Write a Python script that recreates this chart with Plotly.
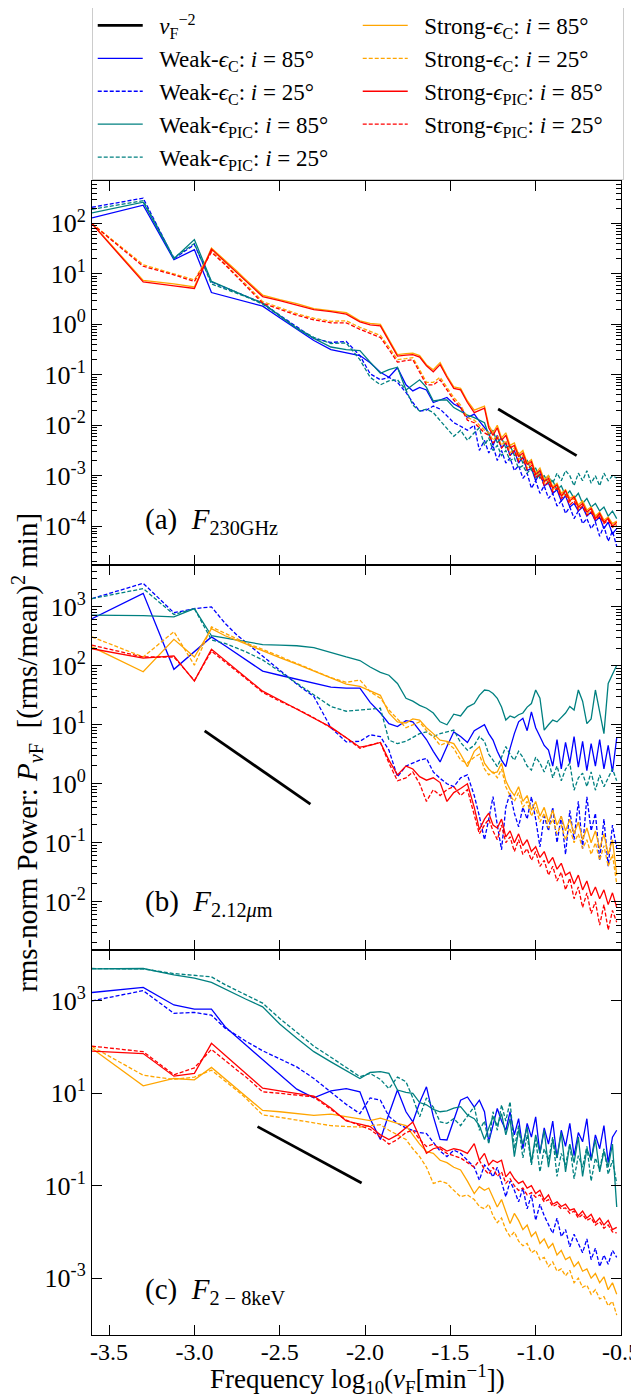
import plotly.graph_objects as go
from plotly.subplots import make_subplots

# ---------------- data (log10 of rms-normalised power) ----------------
X = [-3.60, -3.30, -3.12, -3.00, -2.90, -2.82, -2.75, -2.70, -2.60, -2.50,
     -2.40, -2.30, -2.20, -2.11, -2.03, -1.97, -1.91, -1.86, -1.81, -1.76,
     -1.72, -1.68, -1.64, -1.60, -1.56, -1.52, -1.48, -1.44, -1.40, -1.36,
     -1.33, -1.30, -1.275, -1.25, -1.225, -1.20, -1.175, -1.15, -1.125, -1.10,
     -1.075, -1.05, -1.025, -1.00, -0.975, -0.95, -0.925, -0.90, -0.875, -0.85,
     -0.825, -0.80, -0.775, -0.75, -0.725, -0.70, -0.675, -0.65, -0.625, -0.60,
     -0.575, -0.55, -0.525]

# panel (a) F_230GHz
A_WC85 = [2.11, 2.36, 1.28, 1.48, 0.63, 0.56, 0.50, 0.45, 0.36, 0.13,
          -0.10, -0.32, -0.50, -0.56, -0.62, -0.76, -0.95, -1.05, -0.86, -1.20,
          -1.32, -1.25, -1.30, -1.55, -1.50, -1.45, -1.58, -1.65, -1.85, -1.78,
          -1.92, -2.05, -2.15, -2.40, -2.20, -2.45, -2.35, -2.60, -2.50, -2.75,
          -2.62, -2.90, -2.85, -3.10, -2.95, -3.20, -3.15, -3.35, -3.28, -3.50,
          -3.40, -3.62, -3.55, -3.70, -3.62, -3.80, -3.72, -3.90, -3.82, -4.05,
          -3.92, -4.15, -4.05]
A_WC25 = [2.32, 2.50, 1.30, 1.58, 0.84, 0.72, 0.63, 0.56, 0.42, 0.18,
          -0.05, -0.28, -0.36, -0.34, -0.62, -0.98, -1.10, -1.05, -1.15, -1.35,
          -1.55, -1.72, -1.70, -1.62, -1.68, -1.82, -1.95, -2.02, -2.10, -2.00,
          -2.50, -2.30, -2.55, -2.40, -2.70, -2.50, -2.75, -2.65, -2.90, -2.80,
          -3.05, -2.95, -3.25, -3.10, -3.35, -3.20, -3.45, -3.35, -3.60, -3.50,
          -3.75, -3.62, -3.85, -3.70, -3.95, -3.85, -4.05, -3.92, -4.20, -4.00,
          -4.30, -4.10, -4.40]
A_WP85 = [2.21, 2.42, 1.30, 1.68, 0.85, 0.74, 0.64, 0.56, 0.42, 0.17,
          -0.08, -0.28, -0.45, -0.50, -0.52, -0.75, -0.97, -0.90, -0.85, -1.30,
          -1.20, -1.10, -1.25, -1.52, -1.50, -1.50, -1.65, -1.73, -1.80, -1.85,
          -1.90, -1.95, -2.20, -2.10, -2.35, -2.25, -2.45, -2.40, -2.60, -2.55,
          -2.75, -2.70, -2.90, -2.85, -3.05, -3.00, -3.15, -3.10, -3.28, -3.20,
          -3.40, -3.30, -3.45, -3.35, -3.55, -3.45, -3.62, -3.55, -3.70, -3.62,
          -3.80, -3.70, -3.85]
A_WP25 = [2.28, 2.45, 1.32, 1.60, 0.80, 0.70, 0.62, 0.55, 0.40, 0.16,
          -0.07, -0.26, -0.38, -0.37, -0.70, -1.05, -1.20, -1.12, -1.10, -1.30,
          -1.60, -1.72, -1.68, -1.75, -1.90, -2.05, -2.22, -2.10, -2.30, -2.15,
          -2.05, -2.40, -2.25, -2.50, -2.40, -2.60, -2.50, -2.70, -2.65, -2.85,
          -2.80, -2.95, -2.85, -3.05, -2.90, -3.10, -3.00, -3.15, -2.95, -3.10,
          -2.90, -3.00, -3.20, -2.95, -3.10, -2.90, -3.15, -3.00, -3.20, -2.95,
          -3.10, -3.00, -3.05]
A_SC85 = [2.00, 0.87, 0.80, 0.74, 1.51, 1.27, 1.05, 0.89, 0.58, 0.49,
          0.41, 0.31, 0.27, 0.23, 0.07, 0.02, 0.00, -0.30, -0.60, -0.58,
          -0.57, -0.62, -0.80, -0.90, -0.76, -1.02, -1.24, -1.27, -1.52, -1.70,
          -1.66, -1.62, -2.00, -2.15, -2.00, -2.25, -2.15, -2.40, -2.35, -2.58,
          -2.50, -2.75, -2.68, -2.95, -2.85, -3.08, -3.00, -3.22, -3.15, -3.35,
          -3.28, -3.45, -3.40, -3.58, -3.50, -3.68, -3.62, -3.80, -3.72, -3.88,
          -3.82, -3.95, -3.90]
A_SC25 = [2.00, 1.18, 1.00, 0.88, 1.45, 1.20, 0.96, 0.80, 0.45, 0.33,
          0.21, 0.12, 0.06, 0.07, -0.06, -0.14, -0.22, -0.45, -0.70, -0.68,
          -0.66, -0.90, -1.15, -1.15, -1.05, -1.25, -1.45, -1.60, -1.85, -1.90,
          -2.00, -2.10, -2.15, -2.30, -2.20, -2.40, -2.30, -2.55, -2.45, -2.68,
          -2.60, -2.85, -2.75, -3.00, -2.95, -3.15, -3.08, -3.28, -3.20, -3.40,
          -3.35, -3.52, -3.45, -3.65, -3.55, -3.75, -3.68, -3.85, -3.75, -3.92,
          -3.85, -4.00, -3.95]
A_SP85 = [1.99, 0.84, 0.76, 0.71, 1.49, 1.24, 1.02, 0.86, 0.55, 0.47,
          0.38, 0.29, 0.25, 0.20, 0.05, -0.01, -0.03, -0.33, -0.63, -0.61,
          -0.60, -0.65, -0.82, -0.94, -0.80, -1.05, -1.27, -1.30, -1.55, -1.75,
          -1.70, -1.66, -2.05, -2.20, -2.05, -2.30, -2.20, -2.45, -2.40, -2.62,
          -2.55, -2.78, -2.72, -2.98, -2.90, -3.12, -3.05, -3.25, -3.18, -3.40,
          -3.30, -3.50, -3.42, -3.62, -3.55, -3.72, -3.65, -3.85, -3.75, -3.92,
          -3.85, -4.00, -3.92]
A_SP25 = [1.99, 1.15, 0.98, 0.85, 1.43, 1.18, 0.94, 0.77, 0.42, 0.30,
          0.18, 0.09, 0.03, 0.03, -0.10, -0.18, -0.26, -0.50, -0.75, -0.72,
          -0.70, -0.95, -1.20, -1.20, -1.10, -1.30, -1.50, -1.65, -1.90, -1.95,
          -2.05, -2.15, -2.20, -2.35, -2.25, -2.45, -2.35, -2.60, -2.50, -2.72,
          -2.65, -2.88, -2.80, -3.05, -2.98, -3.20, -3.12, -3.32, -3.25, -3.45,
          -3.38, -3.58, -3.50, -3.68, -3.60, -3.78, -3.72, -3.88, -3.80, -3.95,
          -3.88, -4.02, -3.98]

# panel (b) F_2.12um
B_WC85 = [2.80, 3.23, 1.94, 2.24, 2.49, 2.34, 2.20, 2.10, 1.91, 1.84,
          1.77, 1.71, 1.64, 1.62, 1.62, 1.38, 1.20, 1.02, 0.97, 1.07,
          1.05, 0.90, 0.75, 0.55, 0.37, 0.63, 0.88, 0.80, 0.70, 0.90,
          0.95, 1.00, 0.85, 0.74, 0.55, 0.40, 0.29, 0.60, 0.85, 1.05,
          1.11, 0.90, 1.22, 0.95, 0.80, 0.65, 0.57, 0.30, 0.75, 0.25,
          0.70, 0.35, 0.80, 0.28, 0.72, 0.22, 0.68, 0.30, 0.75, 0.25,
          0.65, 0.20, 0.78]
B_WC25 = [3.14, 3.40, 2.90, 2.97, 3.00, 2.72, 2.52, 2.40, 2.17, 1.93,
          1.69, 1.48, 0.95, 0.71, 0.72, 0.83, 0.80, 0.57, 0.12, 0.30,
          0.35, 0.40, 0.43, 0.20, 0.09, 0.00, -0.05, 0.10, 0.15, -0.20,
          -0.55, -0.95, -0.60, -0.22, -0.70, -1.12, -0.40, -0.16, -0.50, -0.73,
          -0.40, -0.60, -0.22, -0.60, -1.07, -0.55, -0.80, -0.40, -1.00, -0.55,
          -1.20, -0.45, -0.95, -0.30, -1.10, -0.22, -0.80, -0.50, -1.30, -0.60,
          -1.40, -0.70, -1.10]
B_WP85 = [2.86, 2.85, 2.83, 2.97, 2.51, 2.47, 2.44, 2.41, 2.36, 2.35,
          2.34, 2.31, 2.22, 2.15, 2.09, 1.98, 1.89, 1.84, 1.70, 1.45,
          1.40, 1.33, 1.28, 1.20, 1.05, 1.00, 1.18, 1.15, 1.30, 1.36,
          1.50, 1.59, 1.58, 1.53, 1.45, 1.30, 1.08, 1.15, 1.12, 1.17,
          1.20, 1.30, 1.36, 1.59, 1.45, 0.91, 1.00, 1.08, 1.05, 1.12,
          1.20, 1.31, 1.25, 1.59, 1.40, 1.02, 1.10, 1.59, 1.20, 0.85,
          1.70, 1.87, 2.01]
B_WP25 = [3.14, 3.31, 2.87, 2.97, 2.44, 2.38, 2.30, 2.24, 2.10, 1.90,
          1.70, 1.50, 1.31, 1.23, 1.25, 1.27, 1.28, 0.74, 0.68, 0.72,
          0.78, 0.85, 0.88, 0.80, 0.85, 0.88, 0.91, 0.70, 0.57, 0.65,
          0.80, 0.72, 0.50, 0.40, 0.29, 0.45, 0.63, 0.50, 0.40, 0.55,
          0.45, 0.30, 0.23, 0.45, 0.35, 0.20, 0.40, 0.10, 0.30, 0.05,
          0.25, 0.35, -0.11, 0.10, 0.18, -0.05, 0.20, -0.11, 0.15, -0.05,
          0.10, 0.25, 0.05]
B_SC85 = [2.32, 1.90, 2.45, 2.15, 2.63, 2.51, 2.43, 2.37, 2.26, 2.14,
          2.03, 1.91, 1.79, 1.69, 1.65, 1.58, 1.50, 1.20, 1.05, 1.03,
          1.10, 1.08, 0.95, 0.85, 0.74, 0.72, 0.68, 0.50, 0.29, 0.55,
          0.63, 0.35, 0.25, 0.18, 0.20, 0.35, 0.05, -0.10, -0.20, -0.05,
          -0.30, -0.20, -0.45, -0.30, -0.55, -0.40, -0.65, -0.45, -0.70, -0.55,
          -0.80, -0.60, -0.85, -0.65, -0.95, -0.75, -1.00, -0.80, -1.10, -0.85,
          -1.20, -0.95, -1.55]
B_SC25 = [2.49, 2.15, 2.58, 2.01, 2.66, 2.55, 2.46, 2.39, 2.28, 2.16,
          2.04, 1.92, 1.80, 1.72, 1.76, 1.56, 1.45, 1.25, 1.10, 0.95,
          1.00, 1.05, 0.90, 0.80, 0.65, 0.70, 0.60, 0.40, 0.35, 0.45,
          0.50, 0.25, 0.15, 0.20, 0.10, 0.25, -0.05, -0.20, -0.30, -0.15,
          -0.40, -0.30, -0.55, -0.40, -0.65, -0.50, -0.75, -0.60, -0.85, -0.70,
          -0.95, -0.75, -1.00, -0.85, -1.10, -0.95, -1.20, -1.00, -1.30, -1.05,
          -1.40, -1.20, -1.70]
B_SP85 = [2.29, 2.13, 2.17, 1.74, 2.28, 2.09, 1.92, 1.81, 1.57, 1.42,
          1.26, 1.11, 0.96, 0.78, 0.62, 0.65, 0.70, 0.40, 0.15, 0.30,
          0.25, 0.12, 0.06, 0.10, 0.02, -0.30, -0.15, -0.08, 0.00, -0.40,
          -0.78, -0.60, -0.50, -0.70, -0.75, -0.60, -0.90, -0.80, -1.00, -0.85,
          -1.05, -0.95, -1.15, -1.07, -1.25, -1.15, -1.35, -1.25, -1.45, -1.35,
          -1.55, -1.50, -1.70, -1.55, -1.80, -1.65, -1.90, -1.75, -1.95, -1.80,
          -2.05, -1.85, -2.10]
B_SP25 = [2.35, 2.15, 2.15, 1.75, 2.25, 2.07, 1.90, 1.79, 1.55, 1.40,
          1.27, 1.12, 0.95, 0.78, 0.60, 0.66, 0.70, 0.35, 0.05, 0.10,
          0.20, 0.00, -0.30, -0.10, -0.20, -0.10, -0.05, -0.20, -0.10, -0.55,
          -0.85, -0.70, -0.60, -0.80, -0.95, -0.70, -1.00, -0.90, -1.15, -0.95,
          -1.20, -1.10, -1.30, -1.15, -1.40, -1.30, -1.55, -1.40, -1.65, -1.50,
          -1.80, -1.60, -1.95, -1.75, -2.10, -1.85, -2.20, -2.00, -2.40, -2.05,
          -2.48, -2.15, -2.35]

# panel (c) F_2-8keV
C_WC85 = [3.18, 3.29, 2.91, 2.82, 2.82, 2.44, 2.21, 2.05, 1.73, 1.41,
          1.09, 0.90, 1.05, 1.10, 1.03, 0.45, 0.00, 0.55, 1.07, 0.60,
          0.38, 0.80, 1.14, 0.50, 0.00, -0.01, 0.40, 0.85, 0.92, 0.70,
          0.85, 0.60, -0.05, 0.30, 0.67, 0.40, 0.20, 0.60, 0.10, 0.45,
          -0.20, 0.35, 0.05, 0.49, -0.30, 0.25, -0.10, 0.40, -0.40, 0.20,
          -0.15, 0.35, -0.35, 0.15, -0.05, 0.45, -0.45, 0.10, -0.20, 0.30,
          -0.50, 0.05, 0.20]
C_WC25 = [3.00, 3.22, 2.73, 2.75, 2.69, 2.41, 2.25, 2.13, 1.92, 1.75,
          1.57, 1.32, 1.03, 0.76, 0.56, 0.90, 0.85, 0.50, 0.35, 0.25,
          0.20, 0.15, 0.13, -0.05, -0.25, -0.37, -0.23, -0.30, -0.45, -0.60,
          -0.88, -0.55, -0.65, -0.81, -0.60, -0.95, -1.24, -0.90, -1.10, -1.35,
          -1.05, -1.50, -1.20, -1.75, -1.40, -1.65, -1.85, -2.03, -1.70, -2.10,
          -1.95, -2.32, -2.05, -2.25, -2.45, -2.15, -2.60, -2.35, -2.75, -2.50,
          -2.70, -2.40, -2.55]
C_WP85 = [3.69, 3.70, 3.56, 3.49, 3.40, 3.25, 3.13, 3.04, 2.87, 2.50,
          2.19, 1.90, 1.68, 1.48, 1.32, 1.45, 1.47, 1.43, 1.07, 1.02,
          1.00, 0.80, 0.75, 0.65, 0.60, 0.62, 0.68, 0.71, 0.53, 0.45,
          0.30, 0.00, 0.25, 0.49, 0.30, 0.56, 0.10, 0.45, -0.37, 0.20,
          -0.10, 0.27, -0.50, 0.10, -0.30, 0.20, -0.60, 0.00, -0.40, 0.15,
          -0.70, -0.10, -0.50, 0.05, -0.80, -0.20, -0.45, 0.00, -0.70, -0.25,
          -0.60, -0.10, -1.46]
C_WP25 = [3.70, 3.69, 3.59, 3.56, 3.52, 3.35, 3.22, 3.12, 2.95, 2.62,
          2.32, 2.02, 1.78, 1.56, 1.36, 1.43, 1.30, 1.10, 1.35, 1.25,
          0.90, 0.49, 0.90, 0.70, 0.38, 0.35, 0.45, 0.30, 0.50, 0.71,
          0.20, 0.40, -0.10, 0.60, 0.20, 0.75, 0.40, 0.82, -0.20, 0.30,
          -0.40, 0.10, -0.55, 0.00, -0.70, -0.20, -0.45, 0.05, -0.80, -0.30,
          -0.55, -0.10, -0.85, -0.35, -0.60, -0.15, -0.90, -0.40, -0.65, -0.20,
          -0.75, -0.45, -0.95]
C_SC85 = [1.97, 1.16, 1.32, 1.29, 1.56, 1.31, 1.10, 0.94, 0.63, 0.60,
          0.56, 0.52, 0.55, 0.50, 0.44, 0.41, 0.46, 0.40, 0.35, 0.30,
          0.10, -0.10, -0.26, -0.30, -0.45, -0.50, -0.60, -0.66, -0.90, -1.17,
          -1.02, -1.10, -1.05, -1.25, -1.46, -1.30, -1.55, -1.82, -1.60, -1.75,
          -1.95, -1.85, -2.10, -2.00, -2.25, -2.15, -2.35, -2.25, -2.50, -2.40,
          -2.60, -2.54, -2.75, -2.65, -2.85, -2.80, -3.00, -2.90, -3.10, -2.97,
          -3.25, -3.10, -3.35]
C_SC25 = [2.01, 1.39, 1.30, 1.35, 1.50, 1.27, 1.06, 0.90, 0.53, 0.48,
          0.42, 0.36, 0.30, 0.28, 0.27, 0.30, 0.32, 0.20, 0.10, 0.00,
          -0.20, -0.37, -0.60, -0.95, -0.90, -0.95, -1.10, -1.24, -1.20, -1.30,
          -1.45, -1.50, -1.40, -1.65, -1.80, -1.70, -1.95, -2.10, -2.00, -2.20,
          -2.30, -2.25, -2.45, -2.39, -2.60, -2.55, -2.75, -2.65, -2.85, -2.80,
          -2.95, -2.83, -3.10, -3.00, -3.20, -3.15, -3.35, -3.25, -3.45, -3.40,
          -3.60, -3.50, -3.80]
C_SP85 = [1.91, 1.86, 1.37, 1.43, 2.08, 1.82, 1.60, 1.43, 1.11, 1.05,
          0.99, 0.94, 0.68, 0.40, 0.33, 0.28, 0.10, 0.00, 0.10, 0.25,
          0.38, 0.05, -0.30, -0.20, -0.16, -0.25, -0.20, -0.23, -0.30, -0.09,
          -0.45, -0.30, -0.55, -0.45, -0.50, -0.45, -0.81, -0.70, -0.85, -0.95,
          -0.90, -1.05, -1.00, -1.17, -1.10, -1.30, -1.20, -1.40, -1.35, -1.45,
          -1.40, -1.53, -1.50, -1.65, -1.55, -1.70, -1.62, -1.80, -1.70, -1.85,
          -1.75, -1.95, -1.90]
C_SP25 = [2.02, 1.90, 1.40, 1.55, 1.95, 1.70, 1.50, 1.36, 1.03, 1.00,
          0.96, 0.92, 0.65, 0.42, 0.30, 0.22, 0.05, -0.10, 0.00, 0.15,
          0.20, 0.00, -0.15, -0.10, -0.20, -0.30, -0.35, -0.40, -0.50, -0.60,
          -0.45, -0.65, -0.75, -0.60, -0.80, -0.70, -0.95, -0.85, -1.00, -1.10,
          -1.05, -1.20, -1.15, -1.25, -1.20, -1.35, -1.30, -1.45, -1.40, -1.50,
          -1.48, -1.60, -1.55, -1.70, -1.62, -1.75, -1.70, -1.85, -1.78, -1.92,
          -1.85, -2.00, -2.02]

# reference nu^-2 slope segments (x = log10 freq, y = power)
NU2_A_X = [-1.22, -0.76]
NU2_A_Y = [0.021, 0.0025]
NU2_B_X = [-2.94, -2.32]
NU2_B_Y = [7.9, 0.45]
NU2_C_X = [-2.63, -2.02]
NU2_C_Y = [1.9, 0.115]

PANEL_DATA = [
    {"WC85": A_WC85, "WC25": A_WC25, "WP85": A_WP85, "WP25": A_WP25,
     "SC85": A_SC85, "SC25": A_SC25, "SP85": A_SP85, "SP25": A_SP25},
    {"WC85": B_WC85, "WC25": B_WC25, "WP85": B_WP85, "WP25": B_WP25,
     "SC85": B_SC85, "SC25": B_SC25, "SP85": B_SP85, "SP25": B_SP25},
    {"WC85": C_WC85, "WC25": C_WC25, "WP85": C_WP85, "WP25": C_WP25,
     "SC85": C_SC85, "SC25": C_SC25, "SP85": C_SP85, "SP25": C_SP25},
]
NU2 = [(NU2_A_X, NU2_A_Y), (NU2_B_X, NU2_B_Y), (NU2_C_X, NU2_C_Y)]

for p, d in enumerate(PANEL_DATA):
    for k, v in d.items():
        if len(v) != len(X):
            raise ValueError(f"panel {p} series {k}: {len(v)} values")

# ---------------- styling ----------------
FONT = "Liberation Serif, DejaVu Serif, serif"
EPS = "<i>ϵ</i>"
SP = "\u2002"
SERIES = [  # key, legend label, colour, dash, legend rank
    ("WC85", f"{SP}Weak-{EPS}<sub>C</sub>: <i>i</i> = 85°", "#0000ff", "solid", 3),
    ("WC25", f"{SP}Weak-{EPS}<sub>C</sub>: <i>i</i> = 25°", "#0000ff", "4px,2px", 5),
    ("WP85", f"{SP}Weak-{EPS}<sub>PIC</sub>: <i>i</i> = 85°", "#008080", "solid", 7),
    ("WP25", f"{SP}Weak-{EPS}<sub>PIC</sub>: <i>i</i> = 25°", "#008080", "4px,2px", 9),
    ("SC85", f"{SP}Strong-{EPS}<sub>C</sub>: <i>i</i> = 85°", "#ffa500", "solid", 2),
    ("SC25", f"{SP}Strong-{EPS}<sub>C</sub>: <i>i</i> = 25°", "#ffa500", "4px,2px", 4),
    ("SP85", f"{SP}Strong-{EPS}<sub>PIC</sub>: <i>i</i> = 85°", "#ff0000", "solid", 6),
    ("SP25", f"{SP}Strong-{EPS}<sub>PIC</sub>: <i>i</i> = 25°", "#ff0000", "4px,2px", 8),
]

fig = make_subplots(rows=3, cols=1, vertical_spacing=0)

for p, d in enumerate(PANEL_DATA):
    row = p + 1
    for key, label, color, dash, rank in SERIES:
        fig.add_trace(go.Scatter(
            x=X, y=[10 ** v for v in d[key]], mode="lines", name=label,
            legendgroup=key, showlegend=(p == 0), legendrank=rank,
            line=dict(color=color, width=1.3, dash=dash)), row=row, col=1)
    nx, ny = NU2[p]
    fig.add_trace(go.Scatter(
        x=nx, y=ny, mode="lines",
        name=f"{SP}<i>ν</i><sub>F</sub><sup>−2</sup>",
        legendgroup="nu", showlegend=(p == 0), legendrank=1,
        line=dict(color="black", width=2.8)), row=row, col=1)

# layout geometry (page pixels; the html body adds an 8px offset)
OFF = 8
top, bot, left, right = 181, 1335, 92, 621
H, W = 1399, 639
plot_h = bot - top
plot_w = right - left
b1 = (bot - 565) / plot_h
b2 = (bot - 950) / plot_h
domains = [[b1, 1.0], [b2, b1], [0.0, b2]]

Y_RANGES = [[-4.77, 2.84], [-2.82, 3.71], [-4.23, 4.10]]
Y_TICK_EXP = [[-4, -3, -2, -1, 0, 1, 2], [-2, -1, 0, 1, 2, 3], [-3, -1, 1, 3]]
HAS_MINOR = [True, True, False]

XT = [-3.5, -3.0, -2.5, -2.0, -1.5, -1.0, -0.5]
XT_TEXT = ["-3.5", "-3.0", "-2.5", "-2.0", "-1.5", "-1.0", "-0.5"]

for p in range(3):
    row = p + 1
    exps = Y_TICK_EXP[p]
    minor_vals = []
    for e in range(-6, 6):
        for m in range(2, 10):
            minor_vals.append(m * 10.0 ** e)
    yargs = dict(
        type="log", range=Y_RANGES[p], domain=domains[p],
        tickmode="array", tickvals=[10.0 ** e for e in exps],
        ticktext=[f"10<sup>{e}</sup>" for e in exps],
        ticks="inside", ticklen=10, tickwidth=1.2, tickcolor="black",
        mirror="allticks", showline=True, linecolor="black", linewidth=1.1,
        showgrid=False, zeroline=False,
        tickfont=dict(family=FONT, size=26, color="black"),
    )
    if HAS_MINOR[p]:
        yargs["minor"] = dict(tickmode="array", tickvals=minor_vals,
                              ticks="inside", ticklen=5, tickwidth=1,
                              tickcolor="black", showgrid=False)
    fig.update_yaxes(row=row, col=1, **yargs)
    fig.update_xaxes(
        row=row, col=1, range=[-3.6, -0.5], tickmode="array", tickvals=XT,
        ticktext=XT_TEXT, showticklabels=(p == 2), ticklabelstandoff=-5,
        ticks="inside", ticklen=10, tickwidth=1.2, tickcolor="black",
        mirror="allticks", showline=True, linecolor="black", linewidth=1.1,
        showgrid=False, zeroline=False,
        tickfont=dict(family=FONT, size=24, color="black"),
    )

def ypaper(py):
    return (bot - py) / plot_h

def xpaper(px):
    return (px - left) / plot_w

annots = [
    dict(text="(a)  <i>F</i><sub>230GHz</sub>", y=ypaper(521)),
    dict(text="(b)  <i>F</i><sub>2.12<i>μ</i>m</sub>", y=ypaper(903)),
    dict(text="(c)  <i>F</i><sub>2 − 8keV</sub>", y=ypaper(1291)),
]
for a in annots:
    fig.add_annotation(xref="paper", yref="paper", x=xpaper(143),
                       xanchor="left", yanchor="middle", showarrow=False,
                       font=dict(family=FONT, size=29, color="black"), **a)

fig.add_annotation(
    xref="paper", yref="paper", x=xpaper(27), y=ypaper(753),
    text="rms-norm Power: <i>P</i><sub><i>ν</i>F</sub>  [(rms/mean)<sup>2</sup> min]",
    textangle=-90, showarrow=False, xanchor="center", yanchor="middle",
    font=dict(family=FONT, size=29, color="black"))
fig.add_annotation(
    xref="paper", yref="paper", x=xpaper(357), y=ypaper(1379),
    text="Frequency log<sub>10</sub>(<i>ν</i><sub>F</sub>[min<sup>−1</sup>])",
    showarrow=False, xanchor="center", yanchor="middle",
    font=dict(family=FONT, size=27, color="black"))

fig.update_layout(
    width=W, height=H,
    margin=dict(l=left - OFF, r=W - right + OFF, t=top - OFF,
                b=H - bot + OFF, pad=0, autoexpand=False),
    paper_bgcolor="white", plot_bgcolor="white",
    font=dict(family=FONT, color="black"),
    legend=dict(orientation="h", x=-0.0005, xanchor="left", y=ypaper(3),
                yanchor="top", entrywidth=205, entrywidthmode="pixels",
                bgcolor="white", bordercolor="#cccccc", borderwidth=1,
                font=dict(family=FONT, size=23, color="black"),
                itemwidth=45, traceorder="normal"),
)

fig.write_html("out.html")
